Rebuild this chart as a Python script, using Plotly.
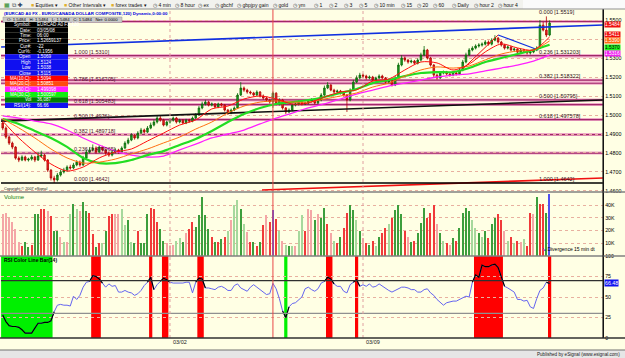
import plotly.graph_objects as go

# ---------------- DATA ----------------
closes = [1.4931,1.4884,1.4852,1.4831,1.4773,1.4763,1.4779,1.4763,1.4768,1.4779,
1.4763,1.4784,1.4789,1.4763,1.4710,1.4668,1.4658,1.4684,1.4700,1.4710,
1.4726,1.4721,1.4737,1.4752,1.4737,1.4773,1.4805,1.4816,1.4826,1.4805,
1.4831,1.4816,1.4800,1.4789,1.4805,1.4816,1.4805,1.4826,1.4852,1.4868,
1.4894,1.4879,1.4905,1.4921,1.4910,1.4931,1.4947,1.4963,1.4984,1.4973,
1.4947,1.4963,1.4973,1.4984,1.4963,1.4973,1.4958,1.4973,1.4968,1.4984,
1.5000,1.5037,1.5058,1.5068,1.5052,1.5058,1.5042,1.5058,1.5052,1.5026,
1.5010,1.5026,1.5037,1.5105,1.5142,1.5131,1.5121,1.5116,1.5105,1.5121,
1.5100,1.5089,1.5079,1.5069,1.5115,1.5058,1.5079,1.5037,1.5016,1.5026,
1.5052,1.5058,1.5068,1.5058,1.5063,1.5073,1.5079,1.5063,1.5079,1.5105,
1.5142,1.5158,1.5131,1.5121,1.5126,1.5116,1.5105,1.5079,1.5131,1.5173,
1.5195,1.5210,1.5205,1.5195,1.5200,1.5184,1.5195,1.5205,1.5195,1.5173,
1.5184,1.5158,1.5195,1.5263,1.5300,1.5289,1.5279,1.5284,1.5273,1.5289,
1.5316,1.5342,1.5300,1.5263,1.5210,1.5195,1.5221,1.5226,1.5216,1.5210,
1.5221,1.5216,1.5237,1.5279,1.5316,1.5342,1.5352,1.5363,1.5368,1.5373,
1.5384,1.5373,1.5394,1.5405,1.5384,1.5368,1.5352,1.5358,1.5342,1.5347,
1.5331,1.5342,1.5337,1.5326,1.5331,1.5342,1.5352,1.5473,1.5447,1.5421,
1.5484]
opens = [1.4958,1.4931,1.4884,1.4852,1.4831,1.4773,1.4763,1.4779,1.4763,1.4768,
1.4779,1.4763,1.4784,1.4789,1.4763,1.4710,1.4668,1.4658,1.4684,1.4700,
1.4710,1.4726,1.4721,1.4737,1.4752,1.4737,1.4773,1.4805,1.4816,1.4826,
1.4805,1.4831,1.4816,1.4800,1.4789,1.4805,1.4816,1.4805,1.4826,1.4852,
1.4868,1.4894,1.4879,1.4905,1.4921,1.4910,1.4931,1.4947,1.4963,1.4984,
1.4973,1.4947,1.4963,1.4973,1.4984,1.4963,1.4973,1.4958,1.4973,1.4968,
1.4984,1.5000,1.5037,1.5058,1.5068,1.5052,1.5058,1.5042,1.5058,1.5052,
1.5026,1.5010,1.5026,1.5037,1.5105,1.5142,1.5131,1.5121,1.5116,1.5105,
1.5121,1.5100,1.5089,1.5079,1.5069,1.5115,1.5058,1.5079,1.5037,1.5016,
1.5026,1.5052,1.5058,1.5068,1.5058,1.5063,1.5073,1.5079,1.5063,1.5079,
1.5105,1.5142,1.5158,1.5131,1.5121,1.5126,1.5116,1.5105,1.5079,1.5131,
1.5173,1.5195,1.5210,1.5205,1.5195,1.5200,1.5184,1.5195,1.5205,1.5195,
1.5173,1.5184,1.5158,1.5195,1.5263,1.5300,1.5289,1.5279,1.5284,1.5273,
1.5289,1.5316,1.5342,1.5300,1.5263,1.5210,1.5195,1.5221,1.5226,1.5216,
1.5210,1.5221,1.5216,1.5237,1.5279,1.5316,1.5342,1.5352,1.5363,1.5368,
1.5373,1.5384,1.5373,1.5394,1.5405,1.5384,1.5368,1.5352,1.5358,1.5342,
1.5347,1.5331,1.5342,1.5337,1.5326,1.5331,1.5342,1.5352,1.5473,1.5447,
1.5421]
highs = [1.4968,1.4940,1.4890,1.4860,1.4836,1.4782,1.4788,1.4786,1.4775,1.4790,
1.4785,1.4805,1.4812,1.4795,1.4768,1.4715,1.4680,1.4695,1.4712,1.4722,
1.4735,1.4738,1.4748,1.4762,1.4760,1.4785,1.4818,1.4830,1.4845,1.4835,
1.4842,1.4838,1.4822,1.4808,1.4812,1.4825,1.4822,1.4835,1.4862,1.4880,
1.4905,1.4900,1.4915,1.4932,1.4928,1.4942,1.4960,1.4975,1.4996,1.5000,
1.4980,1.4970,1.4982,1.4992,1.4990,1.4980,1.4978,1.4980,1.4980,1.4992,
1.5010,1.5048,1.5070,1.5080,1.5075,1.5066,1.5063,1.5065,1.5064,1.5058,
1.5032,1.5034,1.5045,1.5115,1.5173,1.5150,1.5138,1.5128,1.5122,1.5130,
1.5126,1.5108,1.5095,1.5086,1.5124,1.5120,1.5088,1.5085,1.5042,1.5035,
1.5060,1.5066,1.5076,1.5074,1.5070,1.5080,1.5088,1.5084,1.5086,1.5115,
1.5155,1.5173,1.5162,1.5138,1.5134,1.5132,1.5122,1.5110,1.5140,1.5185,
1.5208,1.5222,1.5218,1.5212,1.5208,1.5206,1.5202,1.5214,1.5212,1.5200,
1.5192,1.5190,1.5205,1.5275,1.5315,1.5308,1.5296,1.5292,1.5290,1.5298,
1.5328,1.5363,1.5348,1.5306,1.5268,1.5218,1.5230,1.5234,1.5232,1.5222,
1.5230,1.5228,1.5245,1.5290,1.5328,1.5352,1.5362,1.5372,1.5378,1.5382,
1.5394,1.5392,1.5404,1.5420,1.5410,1.5390,1.5374,1.5366,1.5364,1.5355,
1.5352,1.5350,1.5348,1.5342,1.5340,1.5350,1.5362,1.5500,1.5490,1.5519,
1.5498]
lows = [1.4920,1.4875,1.4842,1.4820,1.4765,1.4752,1.4757,1.4756,1.4755,1.4760,
1.4752,1.4758,1.4775,1.4755,1.4700,1.4655,1.4642,1.4650,1.4676,1.4692,
1.4702,1.4712,1.4715,1.4730,1.4728,1.4732,1.4768,1.4798,1.4808,1.4795,
1.4800,1.4808,1.4790,1.4780,1.4782,1.4798,1.4796,1.4800,1.4820,1.4845,
1.4862,1.4870,1.4872,1.4898,1.4902,1.4905,1.4925,1.4940,1.4955,1.4965,
1.4940,1.4940,1.4955,1.4965,1.4955,1.4956,1.4950,1.4952,1.4960,1.4962,
1.4978,1.4995,1.5030,1.5050,1.5045,1.5045,1.5035,1.5036,1.5044,1.5018,
1.5000,1.5004,1.5020,1.5032,1.5100,1.5122,1.5112,1.5108,1.5098,1.5098,
1.5092,1.5080,1.5070,1.5060,1.5038,1.5050,1.5050,1.5028,1.5005,1.5010,
1.5020,1.5045,1.5050,1.5050,1.5052,1.5056,1.5066,1.5056,1.5058,1.5072,
1.5100,1.5136,1.5125,1.5114,1.5114,1.5108,1.5098,1.5016,1.5072,1.5125,
1.5168,1.5188,1.5196,1.5186,1.5188,1.5176,1.5178,1.5188,1.5188,1.5165,
1.5166,1.5150,1.5152,1.5190,1.5256,1.5280,1.5270,1.5272,1.5266,1.5266,
1.5282,1.5310,1.5292,1.5255,1.5195,1.5186,1.5190,1.5214,1.5208,1.5202,
1.5204,1.5208,1.5210,1.5230,1.5272,1.5310,1.5335,1.5345,1.5355,1.5360,
1.5366,1.5365,1.5366,1.5388,1.5376,1.5360,1.5344,1.5345,1.5335,1.5335,
1.5322,1.5325,1.5328,1.5318,1.5318,1.5325,1.5336,1.5348,1.5440,1.5410,
1.5415]

volumes_k = [33,34,30,27,21,11,8,11,7,9,
33,33,37,37,35,31,20,20,15,11,
11,33,41,37,35,42,35,34,17,7,
10,10,20,31,33,33,33,37,24,28,
11,10,20,10,10,33,38,37,27,21,
12,10,8,9,12,14,11,18,21,27,
23,32,46,32,21,15,11,11,13,15,
20,28,40,44,37,25,19,11,11,8,
11,24,32,27,36.087,29,20,12,9,8,
8,8,20,32,20,37,36,28,33,30,
38,25,18,12,10,15,22,34,40,36,
28,20,14,10,9,12,8,15,18,22,
25,30,36,40,33,20,15,11,12,18,
26,38,30,34,40,25,18,12,10,9,
14,12,22,34,38,35,28,22,18,15,
20,14,25,30,33,28,20,12,15,10,
12,11,13,8,34,33,46,41,41,34,
49]
volume_colors = ["lr","lr","lr","lr","lr","lr","r","g","g","r",
"g","g","r","r","lr","r","g","g","lr","lg",
"lr","lg","g","lg","lr","g","g","r","r","g",
"r","lg","g","r","r","lr","lr","lg","lg","g",
"lg","g","r","g","g","g","r","r","r","g",
"g","lr","lr","lr","lg","lg","g","lr","r","r",
"g","g","g","g","g","r","g","r","g","r",
"lg","lr","lg","lg","g","lg","lr","r","g","r",
"g","r","lr","r","b","r","lg","lr","lg","g",
"lg","lr","lg","lg","r","lr","lr","g","lr","g",
"g","r","lr","lg","r","g","r","r","g","g",
"lg","g","lr","r","g","r","lg","g","r","r",
"lg","r","g","g","g","r","lr","g","r","g",
"g","g","r","r","r","lr","g","lg","r","lr",
"g","r","g","g","g","g","lg","lg","g","lg",
"g","r","g","g","r","r","lr","lg","r","lg",
"r","lr","lg","r","r","lr","g","r","r","g",
"b"]

rsi = [28,20,15,14,14,13,10,6,6,6,
12,18,18,19,19,21,32,40,41,40,
40,39,51,47,52,62,68,69,76,75,
72,67,62,66,63,64,56,56,58,56,
55,52,54,58,64,68,74,59,65,69,
73,71,68,67,67,67,67,68,68,55,
68,73,72,61,61,60,59,62,63,61,
58,58,64,66,61,59,57,62,65,62,
59,56,53,54,66.66,60,48,33,25,38,
42,43,46,50,60,62,59,57,60,67,
69,74,72,66,63,63,57,55,65,68,
71,63,65,63,66,62,63,66,63,61,
58,56,58,61,62,62,61,59,59,56,
56,59,60,55,52,47,43,40,43,44,
45,45,47,48,51,50,68,77,74,89,
87,87,89,90,86,75,63,61,59,56,
47,47,45,46,38,36,48,58,61,68,
66.48]
overbought_zones = [(28,30),(46,46),(50,51),(61,62),(101,102),(110,110),(147,155),(170,170)]
oversold_zones = [(0,15),(88,88)]

ma_idx = list(range(0, 171, 5))
ma10 = [1.4968,1.4879,1.4805,1.4742,1.4705,1.4726,1.4774,1.4805,1.4821,1.4863,1.4905,1.4947,
        1.4974,1.5032,1.5047,1.5084,1.5100,1.5084,1.5058,1.5063,1.5095,1.5121,1.5132,1.5179,
        1.5189,1.5237,1.5279,1.5274,1.5237,1.5268,1.5332,1.5374,1.5353,1.5342,1.5411]
ma20 = [1.4979,1.4932,1.4879,1.4821,1.4774,1.4747,1.4752,1.4768,1.4795,1.4821,1.4853,1.4884,
        1.4926,1.4963,1.5011,1.5047,1.5068,1.5074,1.5068,1.5068,1.5084,1.5100,1.5116,1.5147,
        1.5168,1.5205,1.5237,1.5253,1.5247,1.5258,1.5290,1.5321,1.5337,1.5342,1.5390]
ma30 = [1.4979,1.4953,1.4916,1.4879,1.4832,1.4774,1.4747,1.4747,1.4763,1.4789,1.4810,1.4842,
        1.4874,1.4916,1.4963,1.5005,1.5037,1.5058,1.5068,1.5079,1.5095,1.5116,1.5137,1.5168,
        1.5184,1.5205,1.5221,1.5226,1.5226,1.5247,1.5279,1.5300,1.5321,1.5342,1.5370]
ma50 = [1.4995,1.4984,1.4968,1.4953,1.4921,1.4879,1.4842,1.4810,1.4789,1.4779,1.4784,1.4816,
        1.4847,1.4879,1.4900,1.4921,1.4953,1.4984,1.5010,1.5037,1.5058,1.5084,1.5110,1.5131,
        1.5152,1.5168,1.5184,1.5200,1.5210,1.5216,1.5232,1.5247,1.5263,1.5284,1.5316]

fib_left_ratio = ["0.000", "0.236", "0.382", "0.500", "0.618", "0.786", "1.000"]
fib_left_price = ["1.4642", "1.479965", "1.489718", "1.4976", "1.505483", "1.516705", "1.5310"]
fib_right_ratio = ["0.000", "0.236", "0.382", "0.500", "0.618", "1.000"]
fib_right_price = ["1.5519", "1.531203", "1.518322", "1.50795", "1.497578", "1.4642"]
fib_extra_levels = [1.5492]

trend_lines = [  # (bar0, bar1, price0, price1, colour, width)
    (-0.5, 186.6, 1.5358, 1.5474, "#1030E0", 1.6),
    (-0.5, 186.6, 1.4968, 1.5079, "#101010", 1.6),
    (80.6, 186.6, 1.4605, 1.4668, "#F01010", 1.6),
    (142.0, 154.0, 1.5226, 1.5421, "#F01010", 1.0),
    (154.0, 166.5, 1.5421, 1.5342, "#1030E0", 1.2),
]

day_break_bars = [52, 112]
day_labels = ["03/02", "03/09"]
cursor_bar = 84

price_ticks = [1.46, 1.47, 1.48, 1.49, 1.50, 1.51, 1.52, 1.53, 1.54, 1.55]
price_ticktext = ["1.4600", "1.4700", "1.4800", "1.4900", "1.5000", "1.5100", "1.5200", "1.5300", "", "1.5500"]
vol_ticks = [10, 20, 30, 40]
rsi_ticks = [0, 25, 50, 75, 100]

info_rows = [("Symbol:", "EURCAD A0 FX,120"), ("Date:", "03/05/08"), ("Time:", "06:00"),
             ("Price:", "1.52659137"), ("Cur#:", "-22"), ("Cur%:", "-0.1956")]
ma_info = [("MA(10,C):", "1.5094"), ("MA(20,C):", "1.50851"), ("MA(50,C):", "1.499398"),
           ("MA(30,C):", "1.500597")]

toolbar_items = [(29, "F", "Equities ▾"), (62, "F", "Other Intervals ▾"), (109, "F", "forex trades ▾"),
                 (151, "C", "4 min"), (173, "C", "8 hour"), (196, "C", "ex"), (213, "C", "gbchf"),
                 (235, "C", "gbpjpy gain"), (271, "C", "gold"), (291, "C", "ym"), (312, "C", "1"),
                 (327, "C", "2"), (342, "C", "3"), (357, "C", "5"), (372, "C", "10 min"),
                 (399, "C", "15"), (415, "C", "20"), (431, "C", "60"), (450, "C", "Daily"),
                 (472, "C", "hour 2"), (496, "C", "hour 4")]

# ---------------- LAYOUT HELPERS ----------------
W, H = 625, 358
LEFT, RIGHT, TOP, BOT = 1, 603, 9, 338
FONT = "Liberation Sans, Arial, sans-serif"


def px(x):
    return (x - LEFT) / (RIGHT - LEFT)


def py(y):
    return (BOT - y) / (BOT - TOP)


bars = list(range(len(closes)))
BG = "#FFFFE4"

fig = go.Figure()

# price candles
fig.add_trace(go.Candlestick(
    x=bars, open=opens, high=highs, low=lows, close=closes,
    increasing=dict(line=dict(color="#0A6A0A", width=0.8), fillcolor="#20A020"),
    decreasing=dict(line=dict(color="#B00000", width=0.8), fillcolor="#F02828"),
    whiskerwidth=0, xaxis="x", yaxis="y", showlegend=False, hoverinfo="skip"))

# trend lines
for b0, b1, p0, p1, col, w in trend_lines:
    fig.add_trace(go.Scatter(x=[b0, b1], y=[p0, p1], mode="lines", line=dict(color=col, width=w),
                             xaxis="x", yaxis="y", showlegend=False, hoverinfo="skip"))

# moving averages
for vals, col, w in [(ma50, "#FF20FF", 1.3), (ma30, "#22DD22", 2.2), (ma20, "#FF7010", 1.0), (ma10, "#FF1010", 1.0)]:
    fig.add_trace(go.Scatter(x=ma_idx, y=vals, mode="lines", line=dict(color=col, width=w, shape="spline", smoothing=0.8),
                             xaxis="x", yaxis="y", showlegend=False, hoverinfo="skip"))

# volume
cmap = {"g": "#3C9E3C", "lg": "#A6D89C", "r": "#F03A3A", "lr": "#F4A6A6", "b": "#5050F0"}
fig.add_trace(go.Bar(x=bars, y=volumes_k, marker=dict(color=[cmap[c] for c in volume_colors], line=dict(width=0)),
                     width=0.4, xaxis="x2", yaxis="y2", showlegend=False, hoverinfo="skip"))

# RSI line (blue) and black segments inside zones
fig.add_trace(go.Scatter(x=bars, y=rsi, mode="lines", line=dict(color="#6464F0", width=1),
                         xaxis="x3", yaxis="y3", showlegend=False, hoverinfo="skip"))
bx, by = [], []
for s, e in overbought_zones + oversold_zones:
    for i in range(max(s - 1, 0), min(e + 1, len(rsi) - 1) + 1):
        bx.append(i)
        by.append(rsi[i])
    bx.append(None)
    by.append(None)
fig.add_trace(go.Scatter(x=bx, y=by, mode="lines", line=dict(color="#000000", width=1.2),
                         xaxis="x3", yaxis="y3", showlegend=False, hoverinfo="skip"))

shapes = []
annos = []

# RSI zones
for s, e in overbought_zones:
    shapes.append(dict(type="rect", xref="x3", yref="y3 domain", x0=s - 0.5, x1=e + 0.5, y0=0, y1=1,
                       fillcolor="#FF0000", line=dict(width=0), layer="below"))
for s, e in oversold_zones:
    shapes.append(dict(type="rect", xref="x3", yref="y3 domain", x0=s - 0.5, x1=e + 0.5, y0=0, y1=1,
                       fillcolor="#00F000", line=dict(width=0), layer="below"))
for lvl, col in [(70, "#303030"), (30, "#909090")]:
    shapes.append(dict(type="line", xref="x3 domain", yref="y3", x0=0, x1=1, y0=lvl, y1=lvl,
                       line=dict(color=col, width=1.2)))

# fib lines
fib_levels = [float(p) for p in fib_left_price[1:]] + [float(p) for p in fib_right_price[1:5]] + fib_extra_levels
for lvl in fib_levels:
    shapes.append(dict(type="line", xref="paper", yref="y", x0=0, x1=1, y0=lvl, y1=lvl,
                       line=dict(color="#F0A8C8", width=3), layer="below"))
    shapes.append(dict(type="line", xref="paper", yref="y", x0=0, x1=1, y0=lvl, y1=lvl,
                       line=dict(color="#A02868", width=1.2), layer="below"))
shapes.append(dict(type="line", xref="paper", yref="y", x0=0, x1=1, y0=float(fib_left_price[0]),
                   y1=float(fib_left_price[0]), line=dict(color="#000000", width=1.4)))

# fib labels
for r, p in zip(fib_left_ratio, fib_left_price):
    annos.append(dict(xref="paper", yref="y", x=px(72), y=float(p), xanchor="left", yanchor="bottom",
                      text=f"{r} [{p}]", showarrow=False, yshift=-1,
                      font=dict(size=5.5, color="#501030", family=FONT)))
for r, p in zip(fib_right_ratio, fib_right_price):
    annos.append(dict(xref="paper", yref="y", x=px(537), y=float(p), xanchor="left", yanchor="bottom",
                      text=f"{r} [{p}]", showarrow=False, yshift=-1,
                      font=dict(size=5.5, color="#301020", family=FONT)))

# day breaks / cursor
for b, lab in zip(day_break_bars, day_labels):
    shapes.append(dict(type="line", xref="x", yref="paper", x0=b, x1=b, y0=0, y1=1,
                       line=dict(color="#E0A0A0", width=1, dash="dot")))
    annos.append(dict(xref="x", yref="paper", x=b, y=py(342), xanchor="left", yanchor="middle",
                      text=lab, showarrow=False, xshift=1, font=dict(size=5.5, color="#202020", family=FONT)))
shapes.append(dict(type="line", xref="x", yref="paper", x0=cursor_bar, x1=cursor_bar, y0=0, y1=1,
                   line=dict(color="#E84848", width=1)))

# panel separators and borders
for yy, col in [(192, "#808080"), (256, "#808080"), (338, "#303030")]:
    shapes.append(dict(type="line", xref="paper", yref="paper", x0=px(0), x1=px(625), y0=py(yy), y1=py(yy),
                       line=dict(color=col, width=1.3)))
shapes.append(dict(type="line", xref="paper", yref="paper", x0=1, x1=1, y0=py(338), y1=py(9),
                   line=dict(color="#202020", width=1.2)))

# toolbar and footer
shapes.append(dict(type="rect", xref="paper", yref="paper", x0=px(0), x1=px(625), y0=py(9), y1=py(0),
                   fillcolor="#F2F2EE", line=dict(width=0)))
shapes.append(dict(type="rect", xref="paper", yref="paper", x0=px(523), x1=px(625), y0=py(9), y1=py(0),
                   fillcolor="#FAFAFA", line=dict(width=0)))
shapes.append(dict(type="line", xref="paper", yref="paper", x0=px(0), x1=px(625), y0=py(9), y1=py(9),
                   line=dict(color="#909090", width=1)))
shapes.append(dict(type="rect", xref="paper", yref="paper", x0=px(0), x1=px(625), y0=py(358), y1=py(350),
                   fillcolor="#E6E6E6", line=dict(width=0)))
shapes.append(dict(type="line", xref="paper", yref="paper", x0=px(0), x1=px(625), y0=py(350), y1=py(350),
                   line=dict(color="#707070", width=1)))

# toolbar icons and text
annos.append(dict(xref="paper", yref="paper", x=px(2), y=py(4.5), xanchor="left", yanchor="middle",
                  text='<span style="color:#2A8A2A">▦</span> <span style="color:#555">⧉</span> <b>✚</b>',
                  showarrow=False, font=dict(size=6, family="DejaVu Sans")))
for x, kind, txt in toolbar_items:
    icon = '<span style="color:#E0B030">■</span>' if kind == "F" else '<span style="color:#404040">◷</span>'
    annos.append(dict(xref="paper", yref="paper", x=px(x), y=py(4.6), xanchor="left", yanchor="middle",
                      text=f"{icon} {txt}", showarrow=False, font=dict(size=5.1, color="#101010", family=FONT)))

# title row
annos.append(dict(xref="paper", yref="paper", x=px(2), y=py(13), xanchor="left", yanchor="middle",
                  text="<b>(EURCAD A0 FX - EURO/CANADA DOLLAR COMPOSITE,120) Dynamic,0:00:00</b>",
                  showarrow=False, font=dict(size=4.4, color="#0000E0", family=FONT)))
shapes.append(dict(type="rect", xref="paper", yref="paper", x0=px(3), x1=px(122), y0=py(22.5), y1=py(17),
                   fillcolor="#C8C8C8", line=dict(color="#909090", width=0.5)))
c_last = closes[-1]
annos.append(dict(xref="paper", yref="paper", x=px(5), y=py(19.8), xanchor="left", yanchor="middle",
                  text=f"O: {c_last:.4f}   H: {c_last:.4f}   L: {c_last:.4f}   C: {c_last:.4f}   Net: 0.0000",
                  showarrow=False, font=dict(size=4.3, color="#000000", family=FONT)))

# info box
rows = list(info_rows)
row_cols = ["#000000"] * len(info_rows)
for lab, v in [("Open", opens[cursor_bar]), ("High", highs[cursor_bar]), ("Low", lows[cursor_bar]), ("Close", closes[cursor_bar])]:
    rows.append((lab, f"{v:.4f}"))
    row_cols.append("#1010F0")
for (lab, v), col in zip(ma_info, ["#FF0000", "#FF4A10", "#FF20FF", "#10F010"]):
    rows.append((lab, v))
    row_cols.append(col)
rows.append(("Vol", f"{volumes_k[cursor_bar] * 1000:,.0f}"))
row_cols.append("#008000")
rows.append(("RSI(14):", f"{rsi[cursor_bar]:.2f}"))
row_cols.append("#1010F0")
RH = 5.375
for i, ((lab, val), col) in enumerate(zip(rows, row_cols)):
    y0 = 22 + i * RH
    shapes.append(dict(type="rect", xref="paper", yref="paper", x0=px(5), x1=px(68), y0=py(y0 + RH), y1=py(y0),
                       fillcolor=col, line=dict(width=0)))
    yc = py(y0 + RH / 2)
    annos.append(dict(xref="paper", yref="paper", x=px(33), y=yc, xanchor="right", yanchor="middle",
                      text=lab, showarrow=False, font=dict(size=4.6, color="#FFFFFF", family=FONT)))
    annos.append(dict(xref="paper", yref="paper", x=px(35), y=yc, xanchor="left", yanchor="middle",
                      text=val, showarrow=False, font=dict(size=4.6, color="#FFFFFF", family=FONT)))

# right axis value boxes (stacked so they stay readable)
for val, bg, fg, shift in [(closes[-1], "#F01010", "#FFFFFF", -1), (ma10[-1], "#F01010", "#FFFFFF", 2.5),
                           (ma20[-1], "#FF6A10", "#FFFFFF", 0), (ma30[-1], "#20F020", "#000000", -2.5),
                           (ma50[-1], "#F020F0", "#FFFFFF", 1.5)]:
    annos.append(dict(xref="paper", yref="y", x=px(603.5), y=val, xanchor="left", yanchor="middle",
                      text=f"{val:.4f}", showarrow=False, bgcolor=bg, borderpad=0, yshift=shift,
                      font=dict(size=4.8, color=fg, family=FONT)))
annos.append(dict(xref="paper", yref="y3", x=px(603.5), y=rsi[-1], xanchor="left", yanchor="middle",
                  text=f"{rsi[-1]:.2f}", showarrow=False, bgcolor="#1010F0", borderpad=0,
                  font=dict(size=5.3, color="#FFFFFF", family=FONT)))

# panel labels and texts
annos.append(dict(xref="paper", yref="paper", x=px(2), y=py(197), xanchor="left", yanchor="middle",
                  text="Volume", showarrow=False, font=dict(size=6, color="#108010", family=FONT)))
annos.append(dict(xref="paper", yref="paper", x=px(2), y=py(260), xanchor="left", yanchor="middle",
                  text="<b>RSI Color Line Bar(14)</b>", showarrow=False, font=dict(size=5, color="#000000", family=FONT)))
annos.append(dict(xref="paper", yref="paper", x=px(2), y=py(189), xanchor="left", yanchor="middle",
                  text="Copyright © 2007 eSignal", showarrow=False, font=dict(size=3.8, color="#202020", family=FONT)))
annos.append(dict(xref="paper", yref="paper", x=px(540), y=py(249), xanchor="left", yanchor="middle",
                  text='<span style="color:#2020D0">↘</span> Divergence 15 min dt', showarrow=False,
                  font=dict(size=5, color="#000000", family=FONT)))
annos.append(dict(xref="paper", yref="paper", x=px(622), y=py(354.5), xanchor="right", yanchor="middle",
                  text="Published by eSignal (www.esignal.com)", showarrow=False,
                  font=dict(size=4.6, color="#202020", family=FONT)))

xr = [-0.53, 186.6]
axis_common = dict(showgrid=False, zeroline=False, showticklabels=False, range=xr, fixedrange=True)
tickfont = dict(size=5.3, color="#000000", family=FONT)

fig.update_layout(
    width=W, height=H, margin=dict(l=LEFT, r=W - RIGHT, t=TOP, b=H - BOT),
    paper_bgcolor=BG, plot_bgcolor=BG, showlegend=False, hovermode=False, bargap=0,
    xaxis=dict(**axis_common, domain=[0, 1], anchor="y", rangeslider=dict(visible=False)),
    xaxis2=dict(**axis_common, domain=[0, 1], anchor="y2", matches="x"),
    xaxis3=dict(**axis_common, domain=[0, 1], anchor="y3", matches="x"),
    yaxis=dict(domain=[py(192), 1], range=[1.45947, 1.55579], side="right", anchor="x",
               tickvals=price_ticks, ticktext=price_ticktext, tickfont=tickfont,
               showgrid=True, gridcolor="#E8B0A0", griddash="dot", gridwidth=1, zeroline=False,
               showline=True, linecolor="#000000", linewidth=1.2, ticks=""),
    yaxis2=dict(domain=[py(256), py(192)], range=[0, 50.2], side="right", anchor="x2",
                tickvals=vol_ticks, ticktext=[f"{t}K" for t in vol_ticks], tickfont=tickfont,
                showgrid=True, gridcolor="#E8B0A0", griddash="dot", gridwidth=1, zeroline=False,
                showline=True, linecolor="#000000", linewidth=1.2, ticks=""),
    yaxis3=dict(domain=[0, py(256)], range=[0, 100], side="right", anchor="x3",
                tickvals=rsi_ticks, ticktext=[str(t) for t in rsi_ticks], tickfont=tickfont,
                showgrid=True, gridcolor="#E8B0A0", griddash="dot", gridwidth=1, zeroline=False,
                showline=True, linecolor="#000000", linewidth=1.2, ticks=""),
    shapes=shapes, annotations=annos,
)

fig.write_html("out.html")
